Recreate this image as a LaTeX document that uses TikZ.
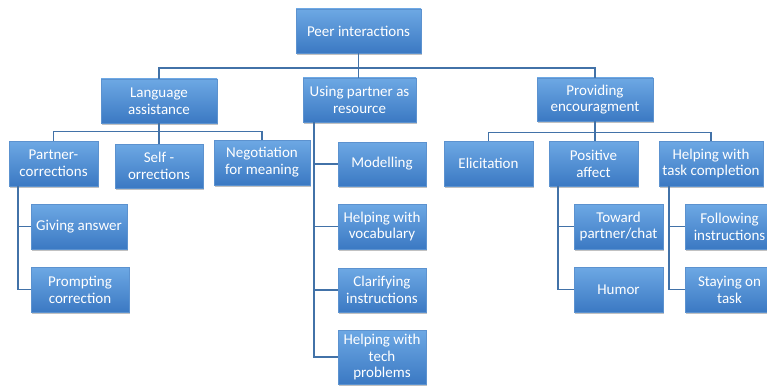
\documentclass[tikz,border=0pt]{standalone}
\usepackage{fontspec}
\setmainfont{Carlito}
\usetikzlibrary{shadows,calc}
\definecolor{boxtop}{HTML}{6DA8E4}
\definecolor{boxbot}{HTML}{3B79C3}
\definecolor{boxedge}{HTML}{5C92CF}
\definecolor{conncol}{HTML}{4272A8}
\tikzset{
  box/.style={rectangle, top color=boxtop, bottom color=boxbot, draw=boxedge, line width=0.6pt,
    text=white, align=center, inner sep=1pt, font=\fontsize{15}{16.8}\selectfont,
    drop shadow={shadow xshift=1.2pt, shadow yshift=-1.8pt, opacity=0.35, fill=black!70}},
  conn/.style={draw=conncol, line width=1.6pt}
}
\begin{document}
\begin{tikzpicture}[x=1pt,y=-1pt]
\useasboundingbox (0,0) rectangle (767,385);
% level 0
\node[box, minimum width=125pt, minimum height=44pt] (root) at (358.5,31) {Peer interactions};
% level 1
\node[box, minimum width=116pt, minimum height=44pt] (lang) at (159,101) {Language\\assistance};
\node[box, minimum width=113pt, minimum height=44pt] (using) at (359.5,100) {Using partner as\\resource};
\node[box, minimum width=116pt, minimum height=43pt] (prov) at (595,99.5) {Providing\\encouragment};
% level 2 language
\node[box, minimum width=89pt, minimum height=45pt] (partnerc) at (53.5,163.5) {Partner-\\corrections};
\node[box, minimum width=88pt, minimum height=44pt] (self) at (159,166) {Self -\\orrections};
\node[box, minimum width=96pt, minimum height=45pt] (nego) at (262,162.5) {Negotiation\\for meaning};
\node[box, minimum width=96pt, minimum height=45pt] (giving) at (79,226.5) {Giving answer};
\node[box, minimum width=98pt, minimum height=45pt] (prompting) at (80,289.5) {Prompting\\correction};
% using partner
\node[box, minimum width=88pt, minimum height=44pt] (model) at (382,164) {Modelling};
\node[box, minimum width=88pt, minimum height=45pt] (vocab) at (382,226.5) {Helping with\\vocabulary};
\node[box, minimum width=88pt, minimum height=44pt] (clar) at (382,290) {Clarifying\\instructions};
\node[box, minimum width=88pt, minimum height=54pt] (tech) at (382,357) {Helping with\\tech\\problems};
% providing
\node[box, minimum width=89pt, minimum height=45pt] (elicit) at (488.5,163.5) {Elicitation};
\node[box, minimum width=89pt, minimum height=45pt] (posaff) at (593.5,163.5) {Positive\\affect};
\node[box, minimum width=104pt, minimum height=45pt] (helptask) at (711,163.5) {Helping with\\task completion};
\node[box, minimum width=89pt, minimum height=45pt] (toward) at (618.5,226.5) {Toward\\partner/chat};
\node[box, minimum width=89pt, minimum height=45pt] (humor) at (618.5,289.5) {Humor};
\node[box, minimum width=89pt, minimum height=45pt] (follow) at (729.5,226.5) {Following\\instructions};
\node[box, minimum width=89pt, minimum height=45pt] (staying) at (729.5,289.5) {Staying on\\task};
% connectors
\draw[conn] (lang.north) |- ($(root.south)+(0,15)$) -| (prov.north);
\draw[conn] (root.south) -- (root.south |- using.north);
\draw[conn] (partnerc.north) |- ($(lang.south)+(0,8)$) -| (nego.north);
\draw[conn] (lang.south) -- (lang.south |- self.north);
\draw[conn] (elicit.north) |- ($(prov.south)+(0,11)$) -| (helptask.north);
\draw[conn] (prov.south) -- (prov.south |- posaff.north);
% vertical trunks
\draw[conn] ($(partnerc.south west)+(9,0)$) |- (prompting.west);
\draw[conn] (giving.west) -| ($(partnerc.south west)+(9,0)$);
\draw[conn] ($(using.south west)+(11,0)$) |- (tech.west);
\draw[conn] (model.west) -| ($(using.south west)+(11,0)$);
\draw[conn] (vocab.west) -| ($(using.south west)+(11,0)$);
\draw[conn] (clar.west) -| ($(using.south west)+(11,0)$);
\draw[conn] ($(posaff.south west)+(9,0)$) |- (humor.west);
\draw[conn] (toward.west) -| ($(posaff.south west)+(9,0)$);
\draw[conn] ($(helptask.south west)+(10,0)$) |- (staying.west);
\draw[conn] (follow.west) -| ($(helptask.south west)+(10,0)$);
\end{tikzpicture}
\end{document}
